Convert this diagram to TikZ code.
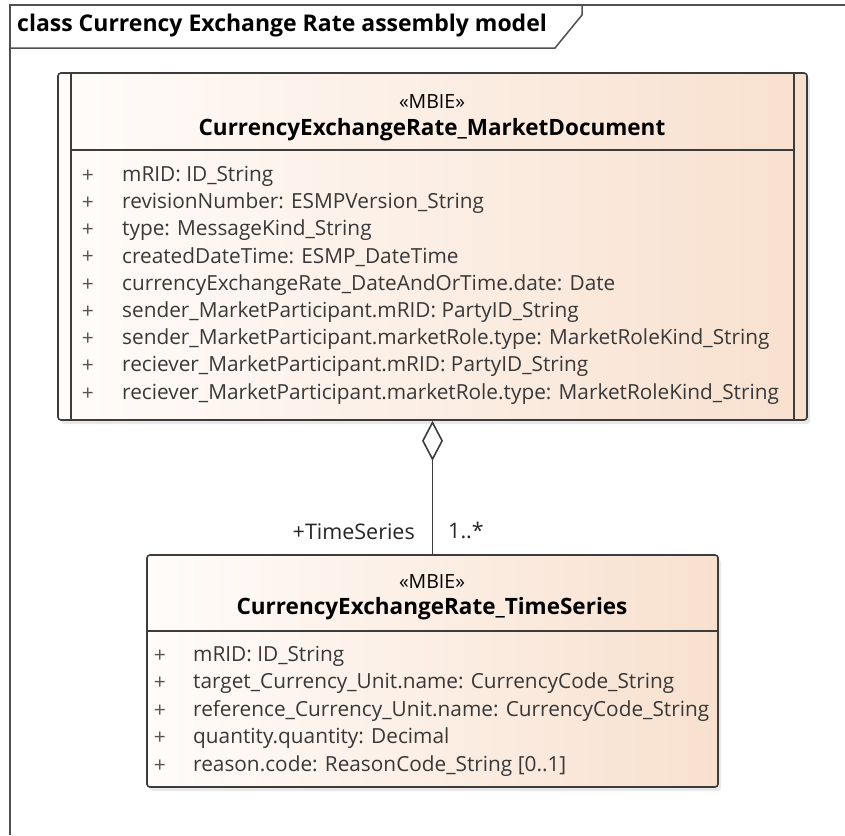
\documentclass[tikz,border=0pt]{standalone}
\usepackage{fontspec}
\setmainfont{Open Sans}
\usetikzlibrary{arrows.meta,shadows,calc}

\definecolor{edge}{HTML}{3C3C3C}
\definecolor{peachL}{HTML}{FFFCFA}
\definecolor{peachR}{HTML}{F8E0CE}
\definecolor{attrtext}{HTML}{383838}

\tikzset{
  classbox/.style={draw=edge, line width=1.6pt, rounded corners=3pt,
    left color=peachL, right color=peachR,
    drop shadow={opacity=0.18, shadow xshift=3pt, shadow yshift=-4pt},
    inner sep=0pt},
  stereo/.style={font=\fontsize{19.5}{22}\selectfont, text=black, inner sep=0pt},
  cname/.style={font=\bfseries\fontsize{22.5}{26}\selectfont, text=black, inner sep=0pt},
  plus/.style={font=\fontsize{21}{24}\selectfont, text=attrtext!85, inner sep=0pt},
  attr/.style={font=\fontsize{20.8}{24}\selectfont, text=attrtext, anchor=west, inner sep=0pt},
  rolelabel/.style={font=\fontsize{21.5}{24}\selectfont, text=black!85, inner sep=0pt},
  sep/.style={draw=edge, line width=1.6pt},
  framepen/.style={draw=edge!90, line width=1.5pt},
}

\begin{document}
\begin{tikzpicture}[x=1pt,y=-1pt]
\useasboundingbox (0,0) rectangle (845,835);

% diagram frame with its name tab
\draw[framepen] (10,835) -- (10,5) -- (845,5);
\draw[framepen] (10,48) -- (555,48) -- (582,15) -- (582,5);
\node[font=\bfseries\fontsize{23}{26}\selectfont, anchor=west, inner sep=0pt] (frametitle) at (17,26) {class Currency Exchange Rate assembly model};

% ---- CurrencyExchangeRate_MarketDocument (active class) ----
\node[classbox, minimum width=749pt, minimum height=347pt] (doc) at (432.5,246.5) {};
\draw[sep] ($(doc.north west)+(14,0)$) -- ($(doc.south west)+(14,0)$);
\draw[sep] ($(doc.north east)+(-14,0)$) -- ($(doc.south east)+(-14,0)$);
\draw[sep] ($(doc.north west)+(14,78)$) -- ($(doc.north east)+(-14,78)$);
\node[stereo] (docst) at (432,102) {«MBIE»};
\node[cname] (docnm) at (432,130) {CurrencyExchangeRate\_MarketDocument};

\foreach \y/\t [count=\i] in {
  176/{mRID: ID\_String},
  203/{revisionNumber: ESMPVersion\_String},
  230/{type: MessageKind\_String},
  257/{createdDateTime: ESMP\_DateTime},
  285/{currencyExchangeRate\_DateAndOrTime.date: Date},
  312/{sender\_MarketParticipant.mRID: PartyID\_String},
  339/{sender\_MarketParticipant.marketRole.type: MarketRoleKind\_String},
  366/{reciever\_MarketParticipant.mRID: PartyID\_String},
  394/{reciever\_MarketParticipant.marketRole.type: MarketRoleKind\_String}}{
  \node[plus] (dp\i) at (88,\y) {+};
  \node[attr] (da\i) at (122,\y) {\t};
}

% ---- CurrencyExchangeRate_TimeSeries ----
\node[classbox, minimum width=571pt, minimum height=232pt] (ts) at (432.5,671) {};
\draw[sep] ($(ts.north west)+(0,77)$) -- ($(ts.north east)+(0,77)$);
\node[stereo] (tsst) at (432,582) {«MBIE»};
\node[cname] (tsnm) at (432,609) {CurrencyExchangeRate\_TimeSeries};

\foreach \y/\t [count=\i] in {
  656/{mRID: ID\_String},
  683/{target\_Currency\_Unit.name: CurrencyCode\_String},
  711/{reference\_Currency\_Unit.name: CurrencyCode\_String},
  738/{quantity.quantity: Decimal},
  766/{reason.code: ReasonCode\_String [0..1]}}{
  \node[plus] (tp\i) at (160,\y) {+};
  \node[attr] (ta\i) at (193,\y) {\t};
}

% ---- aggregation: TimeSeries is part of the MarketDocument ----
\coordinate (aggx) at (432.5,0);
\draw[edge, line width=1.6pt, -{Diamond[open, fill=white, length=40pt, width=21pt]}]
  (ts.north -| aggx) -- (doc.south -| aggx);
\node[rolelabel, anchor=east] (role) at (415,532) {+TimeSeries};
\node[rolelabel, anchor=west] (mult) at (448,530) {1..*};
\end{tikzpicture}
\end{document}
